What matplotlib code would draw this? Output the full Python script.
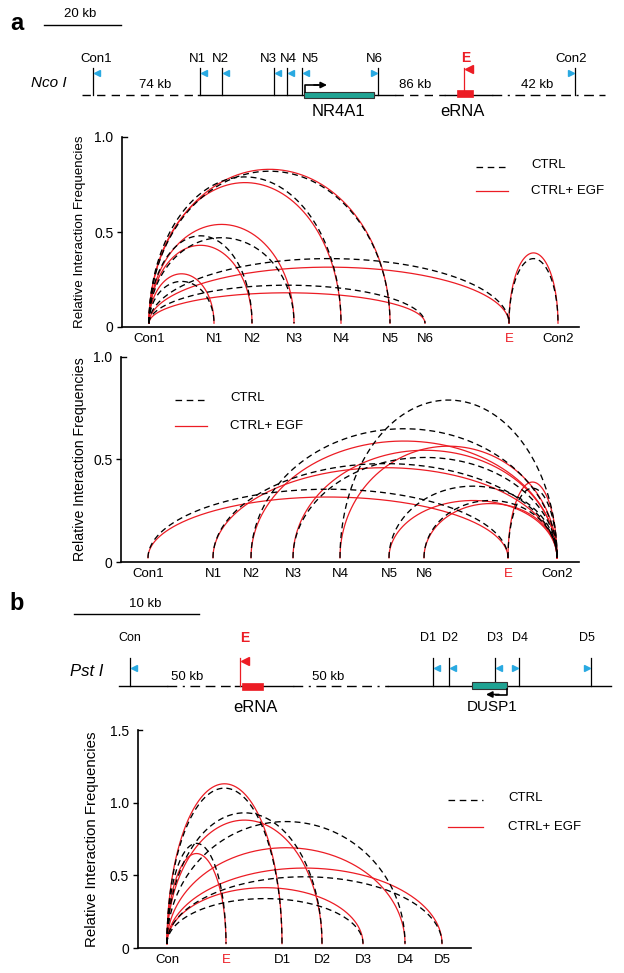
import numpy as np
import matplotlib
matplotlib.use('Agg')
import matplotlib.pyplot as plt
from matplotlib.patches import Rectangle

plt.rcParams['font.family'] = ['Liberation Sans', 'DejaVu Sans']

RED = '#ec1c24'
TEAL = '#1fa393'
CYAN = '#29a9e1'

# ---- data ----
# panel a: NR4A1 locus (Nco I fragments)
a_sites = ['Con1', 'N1', 'N2', 'N3', 'N4', 'N5', 'N6', 'E', 'Con2']

# upper plot: Con1 anchor (+ E-Con2)
a1_pairs = [('Con1', 'N1'), ('Con1', 'N2'), ('Con1', 'N3'), ('Con1', 'N4'),
            ('Con1', 'N5'), ('Con1', 'N6'), ('Con1', 'E'), ('E', 'Con2')]
a1_ctrl = [0.24, 0.48, 0.47, 0.79, 0.82, 0.22, 0.36, 0.36]
a1_egf = [0.28, 0.43, 0.54, 0.76, 0.83, 0.18, 0.315, 0.39]

# lower plot: Con2 anchor (+ Con1-E)
a2_pairs = [('Con1', 'E'), ('N1', 'Con2'), ('N2', 'Con2'), ('N3', 'Con2'),
            ('N4', 'Con2'), ('N5', 'Con2'), ('N6', 'Con2'), ('E', 'Con2')]
a2_ctrl = [0.355, 0.48, 0.65, 0.51, 0.79, 0.37, 0.30, 0.36]
a2_egf = [0.317, 0.46, 0.59, 0.545, 0.565, 0.30, 0.285, 0.39]

# panel b: DUSP1 locus (Pst I fragments), Con anchor
b_sites = ['Con', 'E', 'D1', 'D2', 'D3', 'D4', 'D5']
b_pairs = [('Con', 'E'), ('Con', 'D1'), ('Con', 'D2'), ('Con', 'D3'),
           ('Con', 'D4'), ('Con', 'D5')]
b_ctrl = [0.72, 1.10, 0.93, 0.34, 0.87, 0.49]
b_egf = [0.65, 1.13, 0.88, 0.415, 0.69, 0.55]

# ---- layout (pixels) ----
W, H = 624, 973
a_plot_x = [27, 92, 130, 172, 219, 268, 303, 387, 436]
b_plot_x = [29.5, 88.5, 144.5, 184.5, 225.5, 267.5, 304.5]

a_map_x = [93, 200, 222, 274, 287, 302, 378, 464, 575]
a_lab_x = [96, 197, 220, 268, 288, 310, 374, 466, 571]
a_primer = ['<', '<', '<', '<', '<', '<', '>', None, '>']
b_map_x = [130, 240, 433, 449, 495, 519, 591]
b_lab_x = [130, 245, 428, 450, 495, 520, 587]
b_primer = ['<', None, '<', '<', '<', '>', '>']

fig = plt.figure(figsize=(W / 100, H / 100), dpi=100)
ov = fig.add_axes([0, 0, 1, 1])
ov.set_xlim(0, W)
ov.set_ylim(H, 0)
ov.axis('off')


def px_axes(l, t, r, b):
    return fig.add_axes([l / W, 1 - b / H, (r - l) / W, (b - t) / H])


def draw_arcs(ax, names, xs, pairs, ctrl, egf, base):
    pos = dict(zip(names, xs))
    t = np.linspace(0, np.pi, 300)
    for col, vals, kw in [(RED, egf, dict(lw=0.9)),
                          ('k', ctrl, dict(lw=0.95, ls=(0, (4.5, 3))))]:
        for (s0, s1), h in zip(pairs, vals):
            x0, x1 = pos[s0], pos[s1]
            xx = (x0 + x1) / 2 - (x1 - x0) / 2 * np.cos(t)
            ax.plot(xx, base + (h - base) * np.sin(t), color=col, **kw)


def style(ax, xmax, ymax, yt, ytl, names, xs, ylab, ylab_x, ylab_size):
    ax.patch.set_alpha(0)
    ax.set_xlim(0, xmax)
    ax.set_ylim(0, ymax)
    for s in ['top', 'right']:
        ax.spines[s].set_visible(False)
    for s in ['left', 'bottom']:
        ax.spines[s].set_linewidth(1.2)
    ax.set_yticks(yt)
    ax.set_yticklabels(ytl)
    ax.tick_params(axis='y', direction='out', length=3.6, width=1,
                   labelsize=10, pad=2.5)
    ax.yaxis.get_major_ticks()[-1].tick1line.set_visible(False)
    ax.plot([0, 0.012], [1, 1], color='k', lw=1, transform=ax.transAxes,
            clip_on=False)
    ax.set_xticks(xs)
    ax.set_xticklabels(names)
    ax.tick_params(axis='x', length=0, labelsize=9.5, pad=4)
    for lab in ax.get_xticklabels():
        if lab.get_text() == 'E':
            lab.set_color(RED)
    ax.text(ylab_x, 0.5, ylab, rotation=90, ha='center', va='center',
            fontsize=ylab_size, transform=ax.transAxes)


def legend(x0, x1, y0, y1, tx):
    ov.plot([x0, x1], [y0, y0], color='k', lw=0.95, ls=(0, (5, 3.5)))
    ov.plot([x0, x1], [y1, y1], color=RED, lw=0.9)
    ov.text(tx, y0 - 2, 'CTRL', fontsize=9.5, ha='left', va='center')
    ov.text(tx, y1, 'CTRL+ EGF', fontsize=9.5, ha='left', va='center')


def seg(x0, x1, y, kind):
    ls = {'solid': '-', 'dash': (0, (6, 4.5)),
          'dashdot': (0, (7, 4, 1.5, 4, 7, 4, 7, 4, 7, 4))}[kind]
    ov.plot([x0, x1], [y, y], color='k', lw=1, ls=ls, zorder=1)


def sites(names, xs, lab_x, primers, y_base, y_top, y_lab, y_tri, flag_xy,
          fs):
    for n, x, lx, p in zip(names, xs, lab_x, primers):
        c = RED if n == 'E' else 'k'
        ov.plot([x, x], [y_base, y_top], color=c, lw=0.9, zorder=2)
        if n == 'E':
            ov.text(lx, y_lab, n, color=RED, fontsize=10,
                    fontweight='bold', ha='center', va='center')
        else:
            ov.text(lx, y_lab, n, fontsize=fs, ha='center', va='center')
        if p == '<':
            ov.plot(x + 4, y_tri, marker='<', ms=4.5, color=CYAN, mec=CYAN)
        elif p == '>':
            ov.plot(x - 4, y_tri, marker='>', ms=4.5, color=CYAN, mec=CYAN)
    ov.plot(*flag_xy, marker='<', ms=6, color=RED, mec=RED)


# ---- panel a map ----
ov.text(17, 23, 'a', fontsize=17, fontweight='bold', ha='center', va='center')
ov.plot([44, 121], [25, 25], color='k', lw=1)
ov.text(80, 14, '20 kb', fontsize=9.5, ha='center', va='center')
ov.text(49, 83, 'Nco I', fontsize=11, style='italic', ha='center', va='center')
seg(82, 198, 94.5, 'dash')
seg(198, 395, 94.5, 'solid')
seg(395, 445, 94.5, 'dash')
seg(445, 492, 94.5, 'solid')
seg(492, 605, 94.5, 'dashdot')
sites(a_sites, a_map_x, a_lab_x, a_primer, 94.5, 67.5, 58.5, 73, (469, 69),
      9.5)
ov.add_patch(Rectangle((304, 91.5), 70, 6.5, fc=TEAL, ec='#333333', lw=0.8,
                       zorder=3))
ov.add_patch(Rectangle((457, 90), 16, 7, fc=RED, ec=RED, lw=0.5, zorder=3))
ov.plot([305, 305, 318], [91.5, 85, 85], color='k', lw=1.2, zorder=4)
ov.annotate('', xy=(327, 85), xytext=(314, 85),
            arrowprops=dict(arrowstyle='-|>', color='k', lw=1.2,
                            mutation_scale=9, shrinkA=0, shrinkB=0))
ov.text(155, 85, '74 kb', fontsize=9.5, ha='center', va='center')
ov.text(415, 85, '86 kb', fontsize=9.5, ha='center', va='center')
ov.text(537, 85, '42 kb', fontsize=9.5, ha='center', va='center')
ov.text(338, 111, 'NR4A1', fontsize=12, ha='center', va='center')
ov.text(462, 111, 'eRNA', fontsize=12, ha='center', va='center')

# ---- panel a plots ----
ylab = 'Relative Interaction Frequencies'
ax1 = px_axes(122, 137, 579, 327)
draw_arcs(ax1, a_sites, a_plot_x, a1_pairs, a1_ctrl, a1_egf, 0.02)
style(ax1, 457, 1.0, [0, 0.5, 1.0], ['0', '0.5', '1.0'], a_sites, a_plot_x,
      ylab, -0.092, 9.6)
legend(476, 508, 167, 191, 531)

ax2 = px_axes(121, 357, 579, 562)
draw_arcs(ax2, a_sites, a_plot_x, a2_pairs, a2_ctrl, a2_egf, 0.02)
style(ax2, 458, 1.0, [0, 0.5, 1.0], ['0', '0.5', '1.0'], a_sites, a_plot_x,
      ylab, -0.09, 10.2)
legend(175, 207, 400, 426, 230)

# ---- panel b map ----
ov.text(17, 603, 'b', fontsize=17, fontweight='bold', ha='center', va='center')
ov.plot([74, 199], [614, 614], color='k', lw=1)
ov.text(145, 604, '10 kb', fontsize=9.5, ha='center', va='center')
ov.text(87, 672, 'Pst I', fontsize=12, style='italic', ha='center', va='center')
seg(119, 167, 686, 'solid')
seg(167, 235, 686, 'dashdot')
seg(235, 293, 686, 'solid')
seg(293, 388, 686, 'dashdot')
seg(388, 611, 686, 'solid')
sites(b_sites, b_map_x, b_lab_x, b_primer, 686, 658, 638, 668, (245, 661), 9)
ov.add_patch(Rectangle((242, 682.5), 21, 7, fc=RED, ec=RED, lw=0.5, zorder=3))
ov.add_patch(Rectangle((472, 682), 35, 7, fc=TEAL, ec='#333333', lw=0.8,
                       zorder=3))
ov.plot([507, 507, 496], [689, 694.5, 694.5], color='k', lw=1.2, zorder=4)
ov.annotate('', xy=(486, 694.5), xytext=(499, 694.5),
            arrowprops=dict(arrowstyle='-|>', color='k', lw=1.2,
                            mutation_scale=9, shrinkA=0, shrinkB=0))
ov.text(187, 677, '50 kb', fontsize=9.5, ha='center', va='center')
ov.text(328, 677, '50 kb', fontsize=9.5, ha='center', va='center')
ov.text(255, 707, 'eRNA', fontsize=12, ha='center', va='center')
ov.text(492, 707, 'DUSP1', fontsize=11, ha='center', va='center')

# ---- panel b plot ----
ax3 = px_axes(137.5, 730, 471, 948)
draw_arcs(ax3, b_sites, b_plot_x, b_pairs, b_ctrl, b_egf, 0.03)
style(ax3, 333.5, 1.5, [0, 0.5, 1.0, 1.5], ['0', '0.5', '1.0', '1.5'],
      b_sites, b_plot_x, ylab, -0.137, 10.8)
legend(448, 483, 800, 827, 508)

fig.savefig('out.png', dpi=100)
